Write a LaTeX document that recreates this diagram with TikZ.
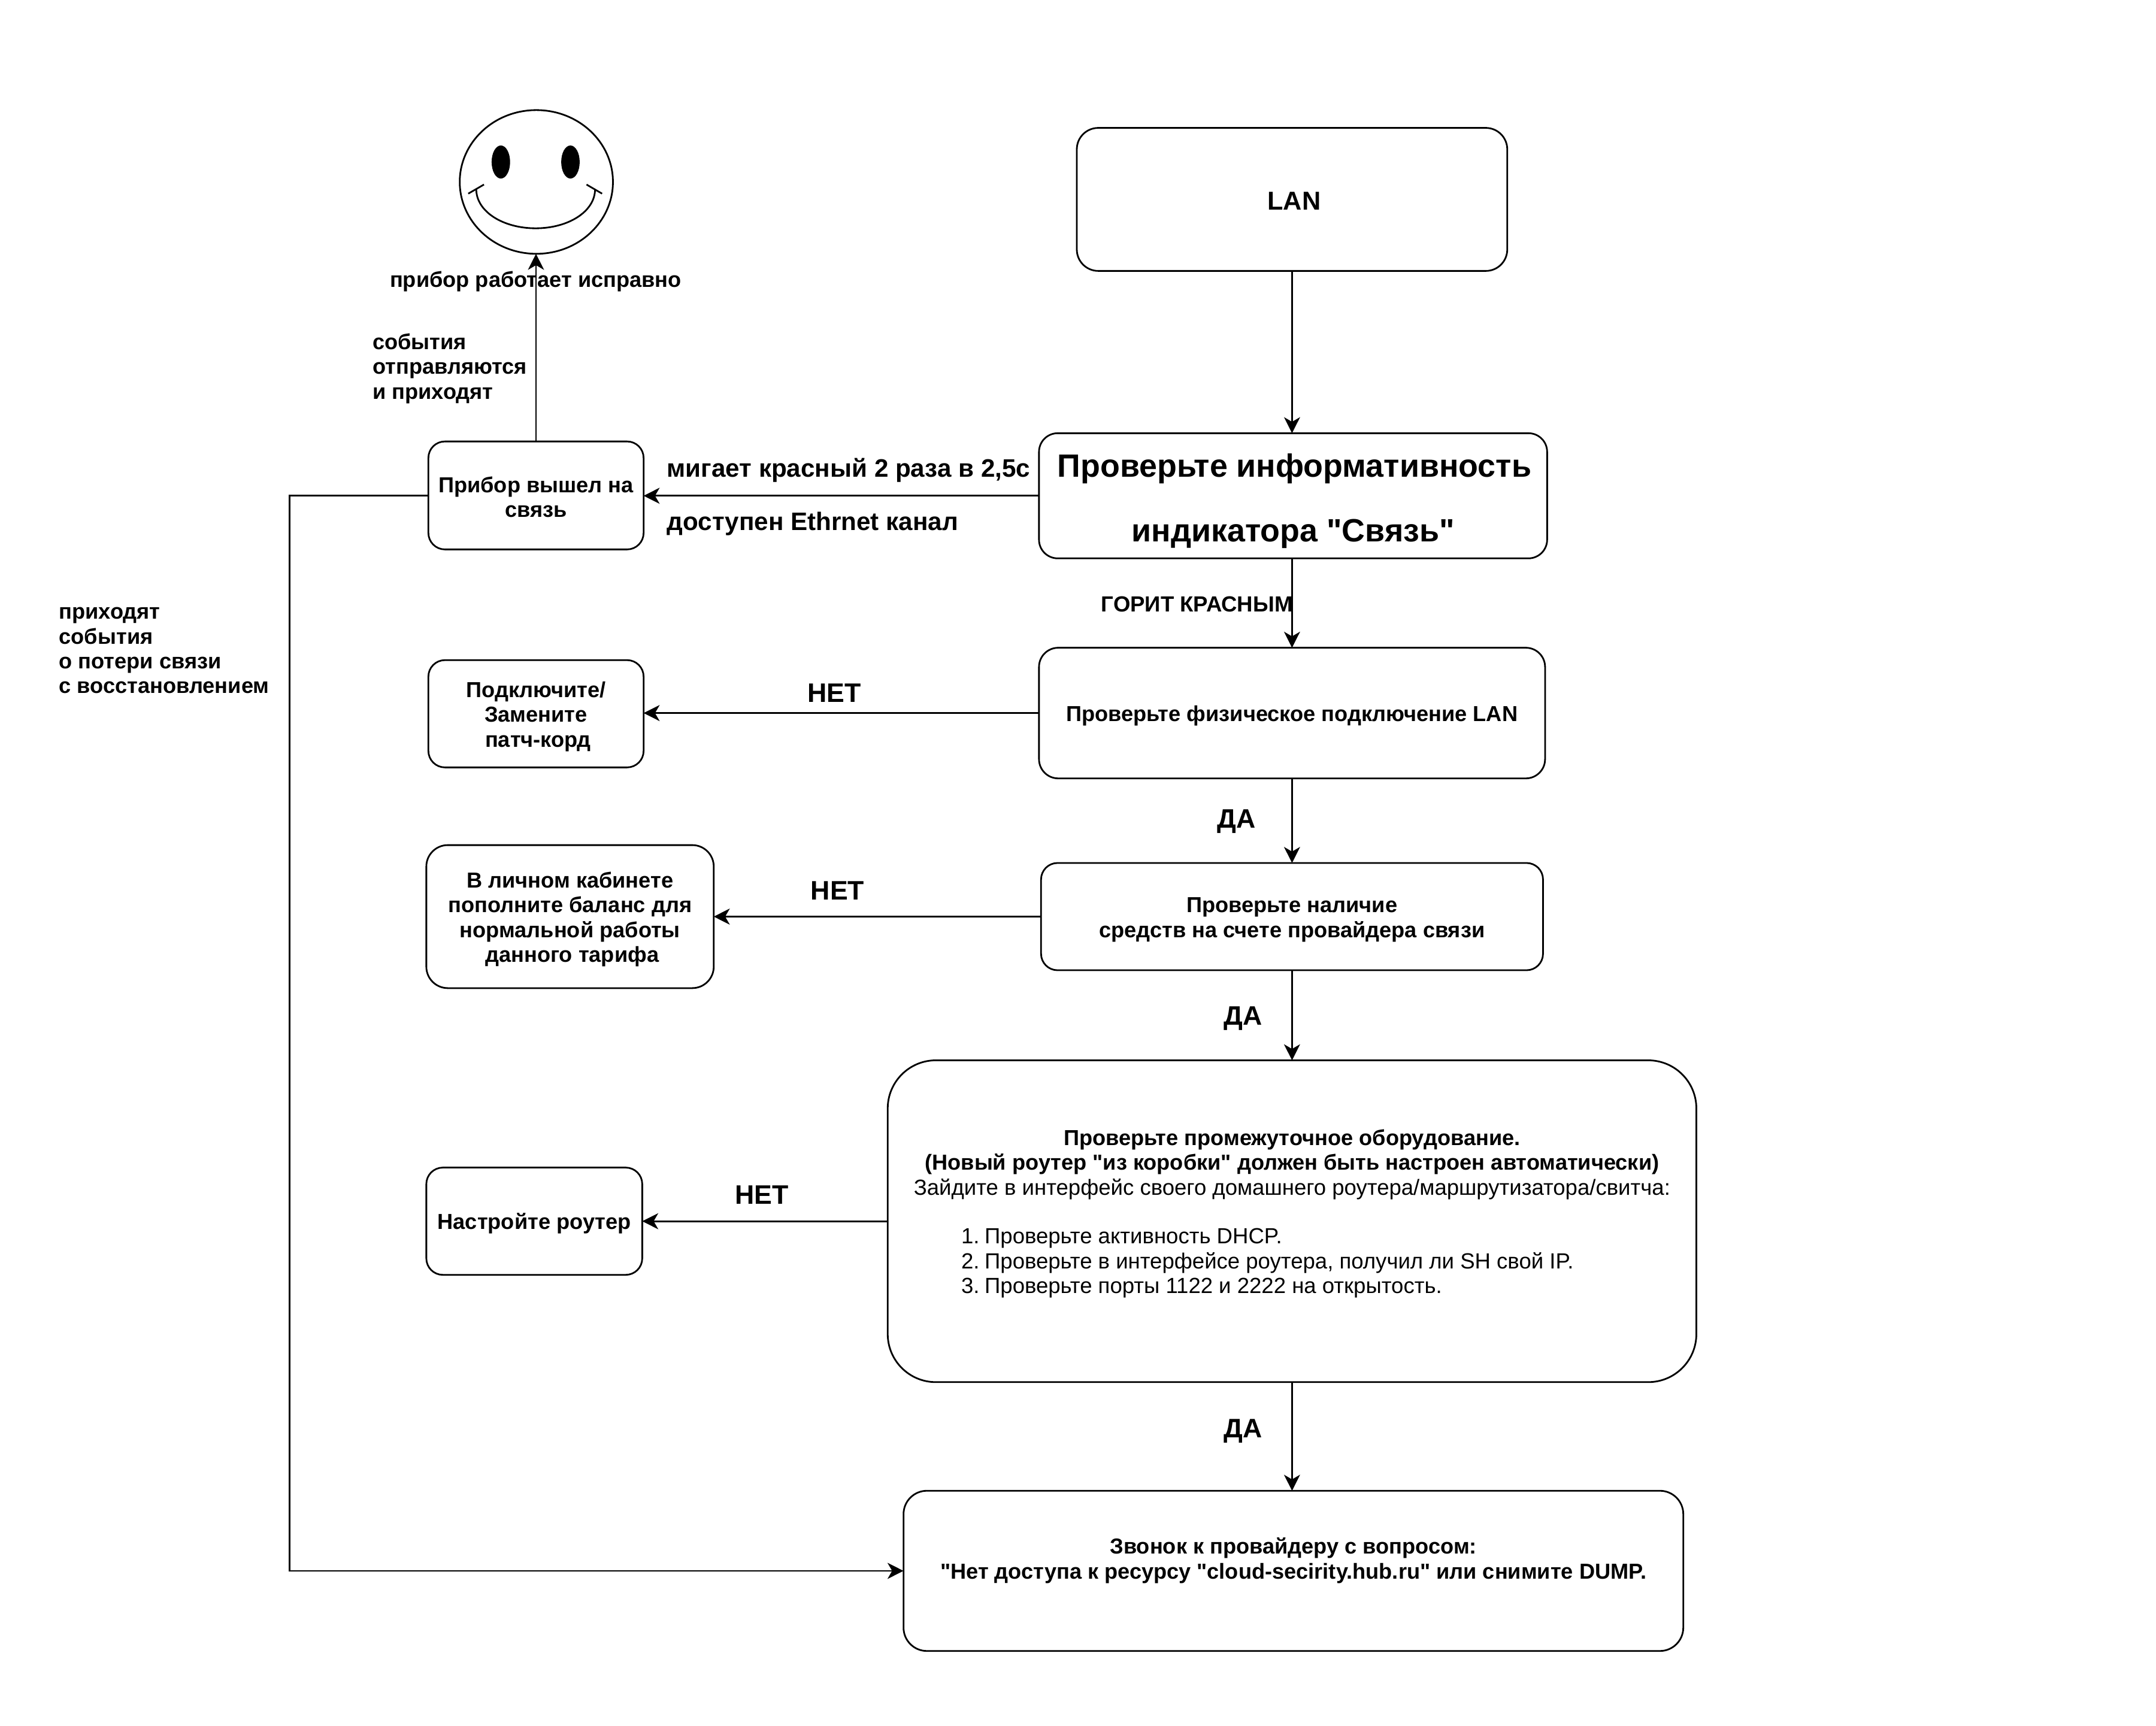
\documentclass[tikz,border=0pt]{standalone}
\usepackage{fontspec}
\setmainfont[Ligatures=TeXOff]{Liberation Sans}
\usetikzlibrary{arrows.meta,shapes.geometric}
\newlength\ux \setlength\ux{0.022963cm}
\tikzset{
  x=0.022963cm, y=-0.022963cm,
  boxst/.style={draw=black, line width=0.8pt, fill=white, align=center, inner sep=0pt, outer sep=0pt,
    font=\fontsize{10.3}{11.8}\selectfont\bfseries},
  arr/.style={draw=black, line width=0.8pt, -{Stealth[length=7.6pt,width=7.6pt,inset=2.2pt]}},
  lbl/.style={inner sep=0pt, outer sep=0pt, align=left, font=\fontsize{10.3}{11.8}\selectfont\bfseries},
  lblbig/.style={inner sep=0pt, outer sep=0pt, font=\fontsize{12.7}{14}\selectfont\bfseries},
  lblmid/.style={inner sep=0pt, outer sep=0pt, font=\fontsize{12}{14}\selectfont\bfseries},
  eye/.style={draw=black, fill=black, shape=ellipse, inner sep=0pt, outer sep=0pt, minimum width=12.8*0.022963cm, minimum height=23.4*0.022963cm},
}
\newcommand\bx[8][]{\node[boxst, #1, rounded corners={#7*0.022963cm}, minimum width={(#5-#3)*0.022963cm}, minimum height={(#6-#4)*0.022963cm}] (#2) at ({(#3+#5)/2},{(#4+#6)/2}) {#8};}
\newcommand\mdtxt[1]{{\mdseries\fontsize{10.4}{11.8}\selectfont #1}}
\newcommand\ts[1]{\rule{0pt}{#1pt}}
\begin{document}
\begin{tikzpicture}
\path[use as bounding box, fill=white] (0,0) rectangle (1567.74,1255.06);
% boxes
\bx[font=\fontsize{12.3}{14}\selectfont\bfseries]{lan}{783}{93}{1096}{197}{15.6}{\ts{10.1}\hspace*{3\ux}LAN}
\bx[font=\fontsize{15.3}{30.7}\selectfont\bfseries]{chk}{755.5}{315}{1125}{406}{13.6}{\ts{16.2}\hspace*{2\ux}Проверьте информативность\\индикатора "Связь"}
\bx{phys}{755.5}{471}{1123.5}{566}{14}{\ts{10}Проверьте физическое подключение LAN}
\bx{funds}{757}{627.5}{1122}{705.5}{12}{\ts{10}Проверьте наличие\\средств на счете провайдера связи}
\bx{big}{645.5}{771}{1233.5}{1005}{35}{%
\ts{10}Проверьте промежуточное оборудование.\\
(Новый роутер "из коробки" должен быть настроен автоматически)\\
\mdtxt{Зайдите в интерфейс своего домашнего роутера/маршрутизатора/свитча:}\\[17.5\ux]
\mdtxt{\makebox[553\ux][l]{\hspace*{36\ux}\makebox[17\ux][l]{1.}Проверьте активность DHCP.}}\\
\mdtxt{\makebox[553\ux][l]{\hspace*{36\ux}\makebox[17\ux][l]{2.}Проверьте в интерфейсе роутера, получил ли SH свой IP.}}\\
\mdtxt{\makebox[553\ux][l]{\hspace*{36\ux}\makebox[17\ux][l]{3.}Проверьте порты 1122 и 2222 на открытость.}}\\
\mbox{}}
\bx{call}{657}{1084}{1224}{1200.5}{17}{Звонок к провайдеру с вопросом:\\"Нет доступа к ресурсу "cloud-secirity.hub.ru" или снимите DUMP.\\\mbox{}}
\bx{prib}{311.5}{321}{468}{399.5}{12}{\ts{9}Прибор вышел на\\связь}
\bx{patch}{311.5}{480}{468}{558}{12}{\ts{10}Подключите/\\Замените\\\hspace*{3\ux}патч-корд}
\bx{bal}{310}{614.5}{519}{718.5}{15.6}{\ts{10}В личном кабинете\\пополните баланс для\\нормальной работы\\\hspace*{3\ux}данного тарифа}
\bx{rout}{310}{849}{467}{927}{12}{\ts{10}Настройте роутер}
% smiley
\node[draw=black, line width=0.8pt, shape=ellipse, inner sep=0pt, outer sep=0pt, minimum width={111.4*0.022963cm}, minimum height={104.5*0.022963cm}] (smile) at (390,132.3) {};
\node[eye] (eyeL) at (364.2,117.8) {};
\node[eye] (eyeR) at (414.8,117.8) {};
\draw[line width=0.8pt] (346.3,137.5) .. controls (346.3,154) and (366,166) .. (389.5,166) .. controls (413,166) and (432.7,154) .. (432.7,137.5);
\draw[line width=0.8pt] (340.5,140.8) -- (351.9,134.2);
\draw[line width=0.8pt] (426.5,134.2) -- (437.8,140.8);
% connectors
\draw[arr] (lan.south) -- (chk.north -| lan.south);
\draw[arr] (chk.south -| lan.south) -- (phys.north -| lan.south);
\draw[arr] (phys.south -| lan.south) -- (funds.north -| lan.south);
\draw[arr] (funds.south -| lan.south) -- (big.north -| lan.south);
\draw[arr] (big.south -| lan.south) -- (call.north -| lan.south);
\draw[arr] (chk.west) -- (prib.east |- chk.west);
\draw[arr] (prib.north) -- (smile.south -| prib.north);
\draw[arr] (phys.west) -- (patch.east |- phys.west);
\draw[arr] (funds.west) -- (bal.east |- funds.west);
\draw[arr] (big.west) -- (rout.east |- big.west);
\coordinate (elbow) at (210.5,0);
\draw[arr] (prib.west) -- (elbow |- prib.west) -- (elbow |- call.west) -- (call.west);
% labels
\node[lbl] (t1) at (389.5,204.5) {прибор работает исправно};
\node[lbl, anchor=west] (t2) at (271,268) {события\\отправляются\\и приходят};
\node[lblmid, anchor=west] (t3) at (485,342) {мигает красный 2 раза в 2,5с};
\node[lblmid, anchor=west] (t4) at (485,381) {доступен Ethrnet канал};
\node[lbl, anchor=east, font=\fontsize{10.4}{11.8}\selectfont\bfseries] (t5) at (940,439.5) {ГОРИТ КРАСНЫМ};
\node[lbl, anchor=west] (t6) at (43,473) {приходят\\события\\о потери связи\\с восстановлением};
\node[lblbig] (n1) at (606.5,504) {НЕТ};
\node[lblbig] (d1) at (899,597.5) {ДА};
\node[lblbig] (n2) at (609,647.5) {НЕТ};
\node[lblbig] (d2) at (904,740.5) {ДА};
\node[lblbig] (n3) at (554,869) {НЕТ};
\node[lblbig] (d3) at (904,1040.5) {ДА};
\end{tikzpicture}
\end{document}
